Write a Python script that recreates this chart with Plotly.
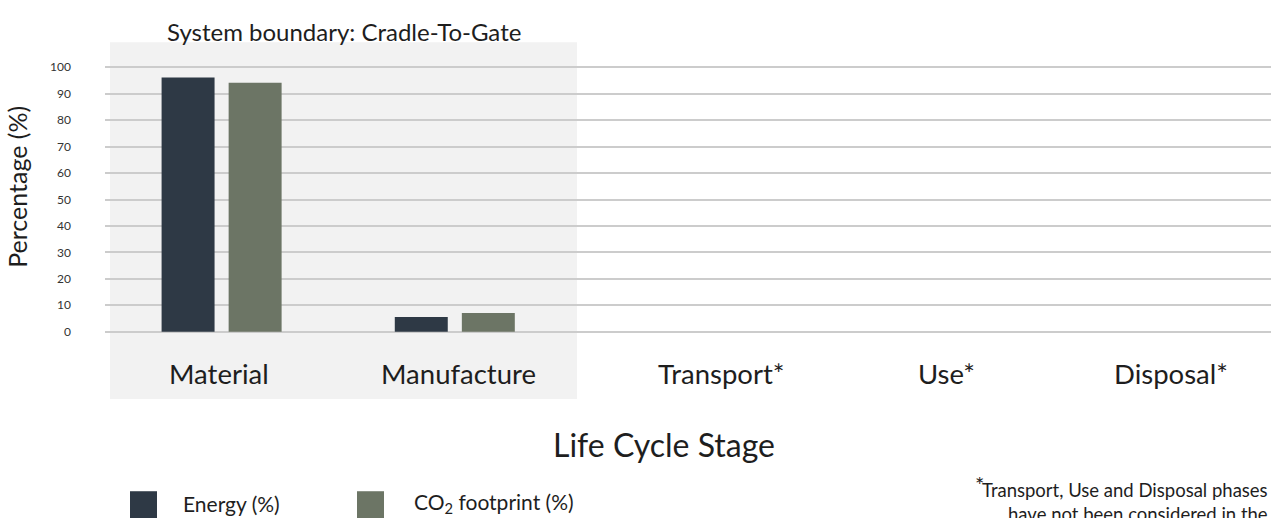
import plotly.graph_objects as go

# ---- data ----
stages = ["Material", "Manufacture", "Transport*", "Use*", "Disposal*"]
energy_pct = [96.1, 5.6, None, None, None]
co2_pct = [94.2, 7.1, None, None, None]
y_ticks = [0, 10, 20, 30, 40, 50, 60, 70, 80, 90, 100]
series_names = ["Energy (%)", "CO<sub>2</sub> footprint (%)"]
colors = ["#2e3945", "#6c7565"]

W, H = 1271, 518
L, R = 105, 0
T, B = 62.4, 181
PW = W - L - R
PH = H - T - B
FONT = "Lato"
TXT = "#1e1e1e"


def px(x):
    return (x - L) / PW


def py(y):
    return (H - B - y) / PH


fig = go.Figure()
fig.add_trace(go.Bar(x=stages, y=energy_pct, name=series_names[0],
                     marker=dict(color=colors[0], line=dict(width=0))))
fig.add_trace(go.Bar(x=stages, y=co2_pct, name=series_names[1],
                     marker=dict(color=colors[1], line=dict(width=0))))

shapes = [
    # system boundary shading
    dict(type="rect", xref="paper", yref="paper", x0=px(110), x1=px(577),
         y0=py(399), y1=py(42.7), fillcolor="#f2f2f2", line=dict(width=0),
         layer="below"),
    # legend swatches
    dict(type="rect", xref="paper", yref="paper", x0=px(130), x1=px(157),
         y0=py(518), y1=py(491), fillcolor=colors[0], line=dict(width=0)),
    dict(type="rect", xref="paper", yref="paper", x0=px(357), x1=px(384),
         y0=py(518), y1=py(491), fillcolor=colors[1], line=dict(width=0)),
]

label_px = [219, 458, 721, 946, 1171]
annotations = []
for name, xp in zip(stages, label_px):
    annotations.append(dict(text=name, xref="paper", yref="paper", x=px(xp), y=py(373),
                            xanchor="center", yanchor="middle", showarrow=False,
                            font=dict(family=FONT, size=27.5, color=TXT)))

annotations += [
    dict(text="System boundary: Cradle-To-Gate", xref="paper", yref="paper",
         x=px(344), y=py(32), xanchor="center", yanchor="middle", showarrow=False,
         font=dict(family=FONT, size=24, color=TXT)),
    dict(text="Life Cycle Stage", xref="paper", yref="paper",
         x=px(664), y=py(444), xanchor="center", yanchor="middle", showarrow=False,
         font=dict(family=FONT, size=32, color=TXT)),
    dict(text="Percentage (%)", xref="paper", yref="paper", textangle=-90,
         x=px(17), y=py(187), xanchor="center", yanchor="middle", showarrow=False,
         font=dict(family=FONT, size=25, color=TXT)),
    dict(text=series_names[0], xref="paper", yref="paper",
         x=px(181), y=py(503), xanchor="left", yanchor="middle", showarrow=False,
         font=dict(family=FONT, size=21, color=TXT)),
    dict(text=series_names[1], xref="paper", yref="paper",
         x=px(412), y=py(503), xanchor="left", yanchor="middle", showarrow=False,
         font=dict(family=FONT, size=21, color=TXT)),
    dict(text="Transport, Use and Disposal phases<br>have not been considered in the",
         xref="paper", yref="paper", x=px(1270), y=py(477), xanchor="right",
         yanchor="top", align="right", showarrow=False,
         font=dict(family=FONT, size=18.5, color=TXT)),
    dict(text="*", xref="paper", yref="paper", x=px(979), y=py(484),
         xanchor="center", yanchor="middle", showarrow=False,
         font=dict(family=FONT, size=22, color=TXT)),
]

fig.update_layout(
    width=W, height=H,
    margin=dict(l=L, r=R, t=T, b=B, pad=0),
    paper_bgcolor="white",
    plot_bgcolor="rgba(0,0,0,0)",
    showlegend=False,
    barmode="group",
    bargap=0.425,
    bargroupgap=0.21,
    shapes=shapes,
    annotations=annotations,
    font=dict(family=FONT, color=TXT),
)
fig.update_xaxes(showticklabels=False, showgrid=False, zeroline=False,
                 showline=False, range=[-0.5, 4.5], fixedrange=True)
fig.update_yaxes(range=[-2, 102], tickvals=y_ticks, showgrid=True,
                 gridcolor="#cccccc", gridwidth=2, zeroline=False, showline=False,
                 ticks="", ticklabelstandoff=33,
                 tickfont=dict(family=FONT, size=12, color="#333333"), fixedrange=True)

fig.write_html("out.html", config={"displayModeBar": False},
               post_script="document.body.style.margin='0';document.body.style.overflow='hidden';")
